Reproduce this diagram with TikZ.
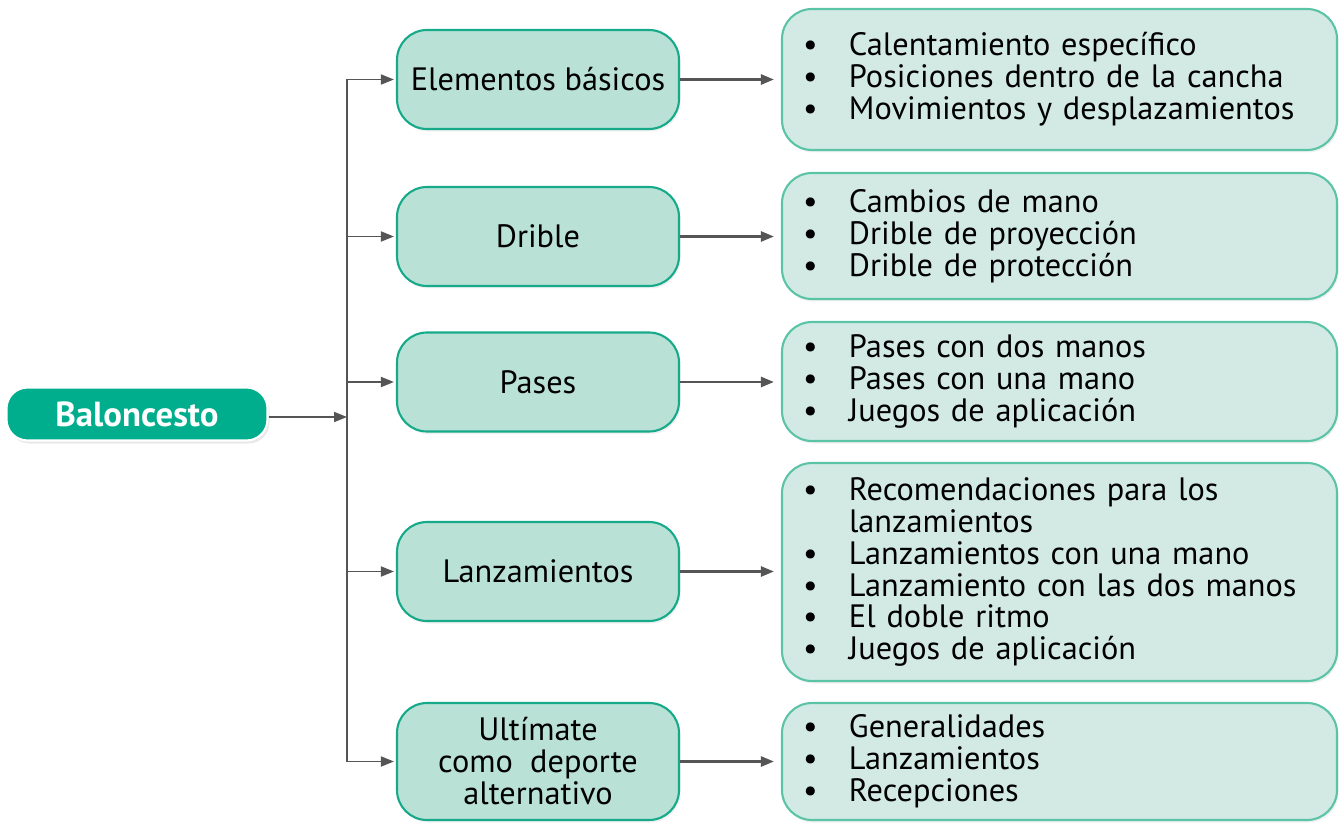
\documentclass[tikz,border=0pt]{standalone}
\usepackage{fontspec}
\setmainfont{PT Sans}
\usetikzlibrary{arrows.meta,shadows}
\definecolor{rootgreen}{RGB}{0,174,142}
\definecolor{midfill}{RGB}{185,225,214}
\definecolor{midline}{RGB}{22,170,138}
\definecolor{subfill}{RGB}{210,234,227}
\definecolor{subline}{RGB}{92,196,166}
\definecolor{arrgray}{RGB}{85,85,85}
\newcommand{\itm}[1]{\makebox[0.92cm][l]{\textbullet}#1}

\begin{document}
\begin{tikzpicture}[
  root/.style={draw=white,line width=1.2pt,rounded corners=0.42cm,fill=rootgreen,text=white,minimum width=5.22cm,minimum height=1.06cm,font=\fontsize{19.8}{22}\selectfont\bfseries,drop shadow={opacity=0.18,shadow xshift=0.04cm,shadow yshift=-0.06cm}},
  topic/.style={draw=midline,line width=1.2pt,rounded corners=0.6cm,fill=midfill,minimum width=5.64cm,minimum height=1.98cm,align=center,font=\fontsize{18.4}{18.2}\selectfont,drop shadow={opacity=0.12,shadow xshift=0.03cm,shadow yshift=-0.05cm}},
  items/.style={draw=subline,line width=1.2pt,rounded corners=0.6cm,fill=subfill,minimum width=11.1cm,text width=10.26cm,inner xsep=0.42cm,align=left,font=\fontsize{18.4}{18.2}\selectfont,drop shadow={opacity=0.12,shadow xshift=0.03cm,shadow yshift=-0.05cm}},
  arr/.style={-{Triangle[length=0.26cm,width=0.2cm]},draw=arrgray,fill=arrgray,line width=1pt},
  harr/.style={arr,line width=1.4pt,shorten >=0.14cm}
]
\useasboundingbox (0,0) rectangle (26.82,-16.46);

% root and topics
\node[root] (bal) at (2.74,-8.28) {Baloncesto};
\node[topic] (elem) at (10.76,-1.59) {Elementos básicos};
\node[topic] (drib) at (10.76,-4.73) {Drible};
\node[topic] (pase) at (10.76,-7.64) {Pases};
\node[topic] (lanz) at (10.76,-11.43) {Lanzamientos};
\node[topic,minimum height=2.34cm] (ulti) at (10.76,-15.23) {Ultímate\\como\ \ deporte\\alternativo};

% contents
\node[items,minimum height=2.82cm] (elemc) at (21.19,-1.59) {\itm{Calentamiento específico}\\\itm{Posiciones dentro de la cancha}\\\itm{Movimientos y desplazamientos}};
\node[items,minimum height=2.52cm] (dribc) at (21.19,-4.72) {\itm{Cambios de mano}\\\itm{Drible de proyección}\\\itm{Drible de protección}};
\node[items,minimum height=2.38cm] (pasec) at (21.19,-7.63) {\itm{Pases con dos manos}\\\itm{Pases con una mano}\\\itm{Juegos de aplicación}};
\node[items,minimum height=4.36cm] (lanzc) at (21.19,-11.44) {\itm{Recomendaciones para los}\\\hspace*{0.92cm}lanzamientos\\\itm{Lanzamientos con una mano}\\\itm{Lanzamiento con las dos manos}\\\itm{El doble ritmo}\\\itm{Juegos de aplicación}};
\node[items,minimum height=2.34cm] (ultic) at (21.19,-15.23) {\itm{Generalidades}\\\itm{Lanzamientos}\\\itm{Recepciones}};

% spine
\coordinate (sp) at (6.94,-8.34);
\draw[arrgray,line width=0.8pt] (sp |- elem) -- (sp |- ulti);
\draw[arr] (bal.east |- sp) -- (sp);
\foreach \t in {elem,drib,pase,lanz,ulti}
  \draw[arr,shorten >=0.04cm] (sp |- \t) -- (\t.west);

% topic to contents
\foreach \t in {elem,drib,pase,lanz,ulti}
  \draw[harr] (\t.east) -- (\t.east -| \t c.west);
\end{tikzpicture}
\end{document}
